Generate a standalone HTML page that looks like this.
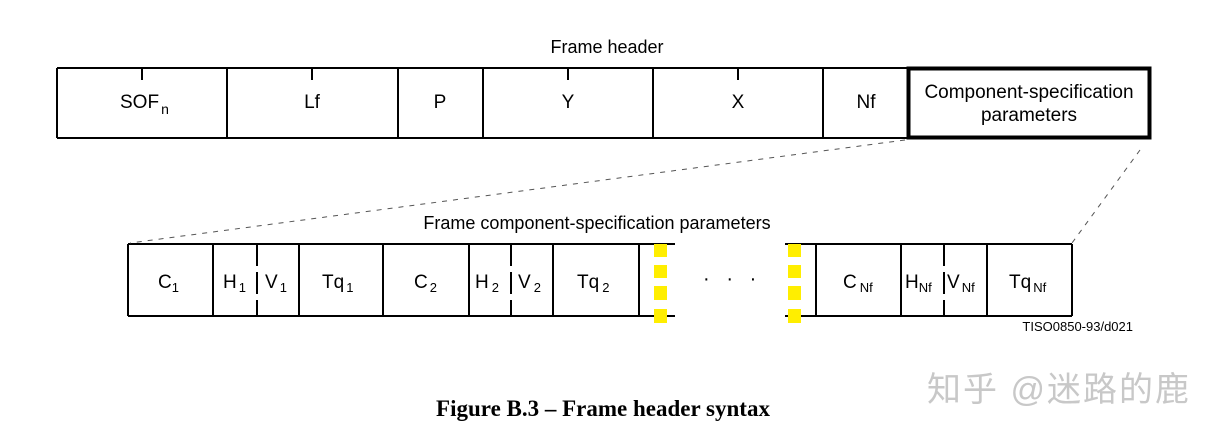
<!DOCTYPE html>
<html><head><meta charset="utf-8"><style>
html,body{margin:0;padding:0;background:#fff;}
svg{display:block;}
text{font-family:"Liberation Sans",sans-serif;fill:#000;}
</style></head><body>
<svg width="1219" height="436" viewBox="0 0 1219 436" xmlns="http://www.w3.org/2000/svg">
<g stroke="#000" stroke-width="2" fill="none">
<line x1="57" y1="68" x2="907" y2="68"/>
<line x1="57" y1="138" x2="907" y2="138"/>
<line x1="57" y1="68" x2="57" y2="138"/>
<line x1="227" y1="68" x2="227" y2="138"/>
<line x1="398" y1="68" x2="398" y2="138"/>
<line x1="483" y1="68" x2="483" y2="138"/>
<line x1="653" y1="68" x2="653" y2="138"/>
<line x1="823" y1="68" x2="823" y2="138"/>
<line x1="142" y1="68" x2="142" y2="80"/>
<line x1="312" y1="68" x2="312" y2="80"/>
<line x1="568" y1="68" x2="568" y2="80"/>
<line x1="738" y1="68" x2="738" y2="80"/>
<rect x="908.5" y="68.5" width="241" height="69" stroke-width="4"/>
<line x1="128" y1="244" x2="675" y2="244"/>
<line x1="128" y1="316" x2="675" y2="316"/>
<line x1="785" y1="244" x2="1072" y2="244"/>
<line x1="785" y1="316" x2="1072" y2="316"/>
<line x1="128" y1="244" x2="128" y2="316"/>
<line x1="213" y1="244" x2="213" y2="316"/>
<line x1="299" y1="244" x2="299" y2="316"/>
<line x1="383" y1="244" x2="383" y2="316"/>
<line x1="469" y1="244" x2="469" y2="316"/>
<line x1="553" y1="244" x2="553" y2="316"/>
<line x1="639" y1="244" x2="639" y2="316"/>
<line x1="816" y1="244" x2="816" y2="316"/>
<line x1="901" y1="244" x2="901" y2="316"/>
<line x1="987" y1="244" x2="987" y2="316"/>
<line x1="1072" y1="244" x2="1072" y2="316"/>
<line x1="257" y1="244" x2="257" y2="316" stroke-dasharray="22 6"/>
<line x1="511" y1="244" x2="511" y2="316" stroke-dasharray="22 6"/>
<line x1="944" y1="244" x2="944" y2="316" stroke-dasharray="22 6"/>
</g>
<g stroke="#555" stroke-width="1" stroke-dasharray="5 6" fill="none">
<line x1="905" y1="140" x2="130" y2="243"/>
<line x1="1140" y1="150" x2="1072" y2="243"/>
</g>
<g fill="#ffee00">
<rect x="654" y="244" width="13" height="13"/><rect x="654" y="265" width="13" height="13"/><rect x="654" y="286" width="13" height="14"/><rect x="654" y="309" width="13" height="14"/>
<rect x="788" y="244" width="13" height="13"/><rect x="788" y="265" width="13" height="13"/><rect x="788" y="286" width="13" height="14"/><rect x="788" y="309" width="13" height="14"/>
</g>
<g font-size="18" text-anchor="middle">
<text x="607" y="53">Frame header</text>
<text x="120" y="108" text-anchor="start" font-size="19">SOF<tspan font-size="14" dy="6" dx="2">n</tspan></text>
<text x="312" y="108" font-size="19">Lf</text>
<text x="440" y="108" font-size="19">P</text>
<text x="568" y="108" font-size="19">Y</text>
<text x="738" y="108" font-size="19">X</text>
<text x="866" y="108" font-size="19">Nf</text>
<text x="1029" y="98" font-size="19">Component-specification</text>
<text x="1029" y="121" font-size="19">parameters</text>
<text x="597" y="229">Frame component-specification parameters</text>
</g>
<g font-size="19">
<text x="158" y="288">C<tspan font-size="13" dy="4">1</tspan></text>
<text x="223" y="288">H<tspan font-size="13" dy="4" dx="2">1</tspan></text>
<text x="265" y="288">V<tspan font-size="13" dy="4" dx="2">1</tspan></text>
<text x="322" y="288">Tq<tspan font-size="13" dy="4" dx="2">1</tspan></text>
<text x="414" y="288">C<tspan font-size="13" dy="4" dx="2">2</tspan></text>
<text x="475" y="288">H<tspan font-size="13" dy="4" dx="3">2</tspan></text>
<text x="518" y="288">V<tspan font-size="13" dy="4" dx="3">2</tspan></text>
<text x="577" y="288">Tq<tspan font-size="13" dy="4" dx="3">2</tspan></text>
<text x="843" y="288">C<tspan font-size="13" dy="4" dx="3">Nf</tspan></text>
<text x="905" y="288">H<tspan font-size="13" dy="4">Nf</tspan></text>
<text x="947" y="288">V<tspan font-size="13" dy="4" dx="2">Nf</tspan></text>
<text x="1009" y="288">Tq<tspan font-size="13" dy="4" dx="2">Nf</tspan></text>
<text x="703" y="285" font-size="20">·&#160;&#160;&#160;·&#160;&#160;&#160;·</text>
</g>
<text x="1133" y="331" font-size="13" text-anchor="end">TISO0850-93/d021</text>
<text x="927" y="401" font-size="34" letter-spacing="2" style="font-family:'Liberation Sans','Noto Sans CJK SC',sans-serif;fill:#c8c8c8">知乎 @迷路的鹿</text>
<text x="603" y="416" font-size="23" font-weight="bold" text-anchor="middle" style="font-family:'Liberation Serif',serif">Figure B.3 – Frame header syntax</text>
</svg>
</body></html>
